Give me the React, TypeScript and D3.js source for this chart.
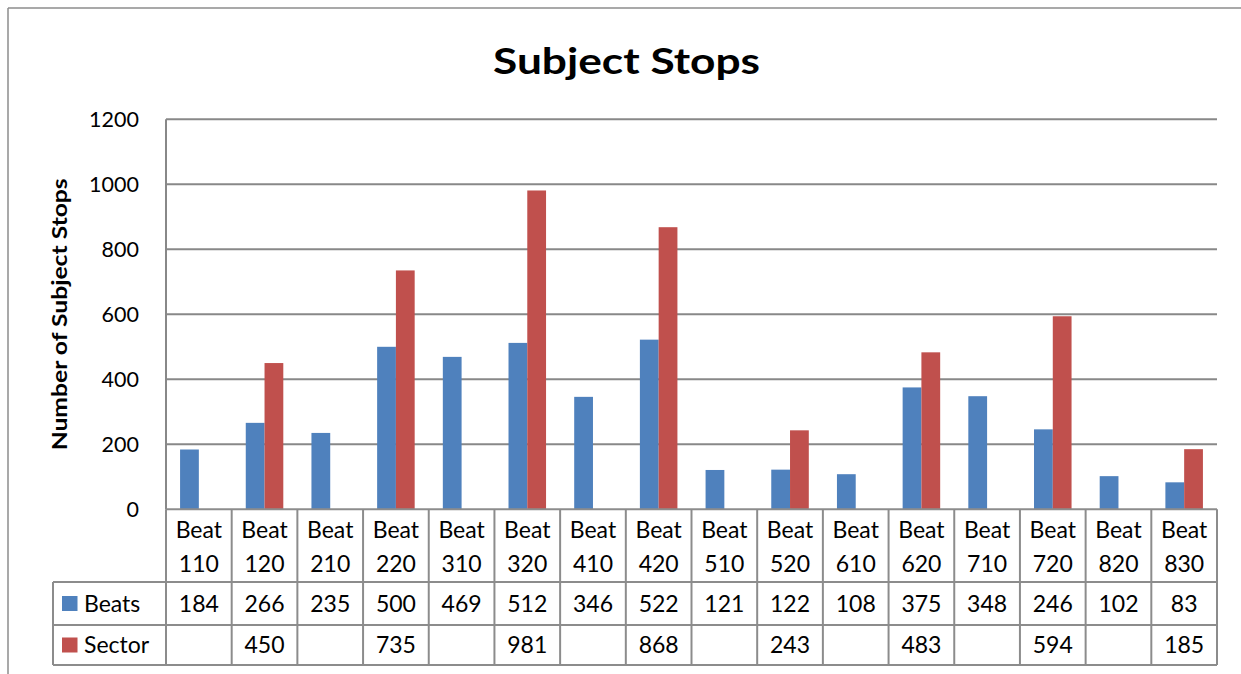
import React from "react";
import * as d3 from "d3";

const categories = ["Beat 110","Beat 120","Beat 210","Beat 220","Beat 310","Beat 320","Beat 410","Beat 420","Beat 510","Beat 520","Beat 610","Beat 620","Beat 710","Beat 720","Beat 820","Beat 830"];
const beats: (number | null)[] = [184,266,235,500,469,512,346,522,121,122,108,375,348,246,102,83];
const sector: (number | null)[] = [null,450,null,735,null,981,null,868,null,243,null,483,null,594,null,185];
const seriesNames = ["Beats", "Sector"];
const seriesColors = ["#4F81BD", "#C0504D"];
const yTicks = [0,200,400,600,800,1000,1200];
const title = "Subject Stops";
const yLabel = "Number of Subject Stops";

const W = 1241, H = 674;
const FONT = "Lato, 'Open Sans', sans-serif";

export default function App() {
  const left = 166, right = 1217, top = 119.3, bottom = 509.3;
  const legendLeft = 53;
  const rowCatBottom = 582, rowBeatsBottom = 625, rowSectorBottom = 665;
  const x = d3.scaleBand<string>().domain(categories).range([left, right]).paddingInner(0).paddingOuter(0);
  const bw = x.bandwidth();
  const inner = d3.scaleBand<string>().domain(seriesNames).range([0, bw]).paddingInner(0).paddingOuter(0.75);
  const y = d3.scaleLinear().domain([0, 1200]).range([bottom, top]);
  const series = [beats, sector];
  const grid = "#888888";
  const tbl = "#8c8c8c";

  return (
    <svg width={W} height={H} style={{ position: "absolute", left: 0, top: 0, display: "block" }}>
      <rect x={0} y={0} width={W} height={H} fill="#fff" />
      <line x1={8} y1={8} x2={W} y2={8} stroke="#8c8c8c" strokeWidth={1.5} />
      <line x1={8} y1={8} x2={8} y2={H} stroke="#8c8c8c" strokeWidth={1.5} />
      <text x={493} y={74} textLength={267} lengthAdjust="spacingAndGlyphs" fontFamily={FONT} fontWeight={700} fontSize={37} fill="#000">{title}</text>
      <text transform={`translate(67,${(top + bottom) / 2 + 0}) rotate(-90)`} x={-136} textLength={272} lengthAdjust="spacingAndGlyphs" fontFamily={FONT} fontWeight={700} fontSize={21} fill="#000">{yLabel}</text>
      {yTicks.map(t => (
        <g key={t}>
          {t > 0 && <line x1={left} x2={right} y1={y(t)} y2={y(t)} stroke={grid} strokeWidth={2} />}
          <text x={139} y={y(t)} dy="0.35em" textAnchor="end" fontFamily={FONT} fontSize={21.5} fill="#000">{t}</text>
        </g>
      ))}
      {series.map((s, si) => categories.map((c, i) => {
        const v = s[i];
        if (v == null) return null;
        return <rect key={`${si}-${i}`} x={(x(c) as number) + (inner(seriesNames[si]) as number)} y={y(v)} width={inner.bandwidth()} height={bottom - y(v)} fill={seriesColors[si]} />;
      }))}
      <line x1={left} x2={left} y1={top} y2={bottom} stroke={grid} strokeWidth={2} />
      {/* table */}
      <line x1={left} x2={right} y1={bottom} y2={bottom} stroke={tbl} strokeWidth={2} />
      <line x1={legendLeft} x2={right} y1={rowCatBottom} y2={rowCatBottom} stroke={tbl} strokeWidth={2} />
      <line x1={legendLeft} x2={right} y1={rowBeatsBottom} y2={rowBeatsBottom} stroke={tbl} strokeWidth={2} />
      <line x1={legendLeft} x2={right} y1={rowSectorBottom} y2={rowSectorBottom} stroke={tbl} strokeWidth={2} />
      <line x1={legendLeft} x2={legendLeft} y1={rowCatBottom} y2={rowSectorBottom} stroke={tbl} strokeWidth={2} />
      {categories.map((c, i) => (
        <line key={`v${i}`} x1={x(c)} x2={x(c)} y1={bottom} y2={rowSectorBottom} stroke={tbl} strokeWidth={2} />
      ))}
      <line x1={right} x2={right} y1={bottom} y2={rowSectorBottom} stroke={tbl} strokeWidth={2} />
      {categories.map((c, i) => {
        const cx = (x(c) as number) + bw / 2;
        const parts = c.split(" ");
        return (
          <g key={`c${i}`} fontFamily={FONT} fontSize={23} textAnchor="middle" fill="#000">
            <text x={cx} y={538}>{parts[0]}</text>
            <text x={cx} y={572}>{parts[1]}</text>
            {beats[i] != null && <text x={cx} y={612}>{beats[i]}</text>}
            {sector[i] != null && <text x={cx} y={653}>{sector[i]}</text>}
          </g>
        );
      })}
      {seriesNames.map((n, si) => {
        const rowMid = si === 0 ? (rowCatBottom + rowBeatsBottom) / 2 : (rowBeatsBottom + rowSectorBottom) / 2;
        return (
          <g key={n}>
            <rect x={62} y={rowMid - 7.5} width={15.5} height={15} fill={seriesColors[si]} />
            <text x={84} y={rowMid} dy="0.36em" fontFamily={FONT} fontSize={23} fill="#000">{n}</text>
          </g>
        );
      })}
    </svg>
  );
}
